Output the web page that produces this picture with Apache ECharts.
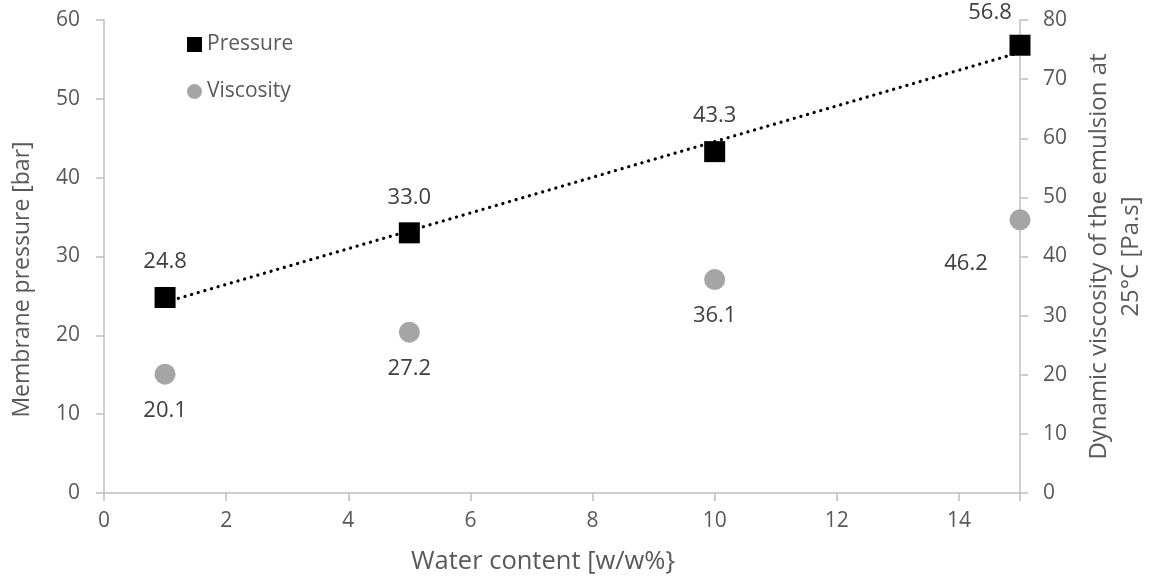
<!DOCTYPE html>
<html><head><meta charset="utf-8">
<script src="https://cdn.jsdelivr.net/npm/echarts@6/dist/echarts.min.js"></script>
<style>html,body{margin:0;padding:0;background:#fff}#c{width:1149px;height:579px}</style>
</head><body><div id="c"></div>
<script>
const waterContent = [1, 5, 10, 15];
const pressure = [24.8, 33.0, 43.3, 56.8];
const viscosity = [20.1, 27.2, 36.1, 46.2];
const trendX = [1, 15];
const trendY = [24.2, 55.9];
const xTicks = [0, 2, 4, 6, 8, 10, 12, 14];

const FONT = 'Open Sans';
const gray = '#595959';
const axisGray = '#bfbfbf';
const chart = echarts.init(document.getElementById('c'));

const pLabel = [
  {position: 'top', distance: 14, offset: [0, 0]},
  {position: 'top', distance: 14, offset: [0, 0]},
  {position: 'top', distance: 14, offset: [0, 0]},
  {position: 'top', distance: 11, offset: [-30, 0]}
];
const vLabel = [
  {position: 'bottom', distance: 15, offset: [0, 0]},
  {position: 'bottom', distance: 15, offset: [0, 0]},
  {position: 'bottom', distance: 15, offset: [0, 0]},
  {position: 'bottom', distance: 22, offset: [-54, 0]}
];

chart.setOption({
  animation: false,
  textStyle: {fontFamily: FONT},
  grid: {left: 104, right: 129, top: 20, bottom: 86, outerBoundsMode: 'none', containLabel: false},
  legend: {
    orient: 'vertical', left: 182, top: 29, itemGap: 26, itemWidth: 15, itemHeight: 15,
    textStyle: {fontFamily: FONT, fontSize: 21, color: gray},
    data: [{name: 'Pressure', icon: 'rect'}, {name: 'Viscosity', icon: 'circle'}]
  },
  xAxis: {
    type: 'value', min: 0, max: 15, interval: 2,
    name: 'Water content [w/w%}', nameLocation: 'middle', nameGap: 56,
    nameTextStyle: {fontFamily: FONT, fontSize: 25.5, color: gray, padding: [0, 38, 0, 0]},
    axisLine: {show: true, lineStyle: {color: axisGray, width: 1.5}},
    axisTick: {show: true, length: 8, lineStyle: {color: axisGray, width: 1.5}},
    axisLabel: {fontFamily: FONT, fontSize: 21, color: gray, margin: 18,
      formatter: v => xTicks.includes(v) ? String(v) : ''},
    splitLine: {show: false}
  },
  yAxis: [{
    type: 'value', min: 0, max: 60, interval: 10, position: 'left',
    name: 'Membrane pressure [bar]', nameLocation: 'middle', nameGap: 70, nameRotate: 90,
    nameTextStyle: {fontFamily: FONT, fontSize: 23, color: gray, padding: [0, 46, 0, 0]},
    axisLine: {show: true, lineStyle: {color: axisGray, width: 1.5}},
    axisTick: {show: true, length: 8, lineStyle: {color: axisGray, width: 1.5}},
    axisLabel: {fontFamily: FONT, fontSize: 21, color: gray, margin: 24},
    splitLine: {show: false}
  }, {
    type: 'value', min: 0, max: 80, interval: 10, position: 'right',
    name: 'Dynamic viscosity of the emulsion at\n25°C [Pa.s]', nameLocation: 'middle', nameGap: 63, nameRotate: 90,
    nameTextStyle: {fontFamily: FONT, fontSize: 24, color: gray, align: 'center', lineHeight: 32},
    axisLine: {show: true, lineStyle: {color: axisGray, width: 1.5}},
    axisTick: {show: true, length: 8, lineStyle: {color: axisGray, width: 1.5}},
    axisLabel: {fontFamily: FONT, fontSize: 21, color: gray, margin: 23},
    splitLine: {show: false}
  }],
  series: [{
    name: 'Trend', type: 'line', yAxisIndex: 0, symbol: 'none', silent: true, z: 1,
    data: trendX.map((x, i) => [x, trendY[i]]),
    lineStyle: {color: '#000', width: 3.2, type: [0.1, 6.8], cap: 'round'}
  }, {
    name: 'Pressure', type: 'scatter', yAxisIndex: 0, symbol: 'rect', symbolSize: 21, z: 3,
    itemStyle: {color: '#000', opacity: 1},
    data: waterContent.map((x, i) => ({value: [x, pressure[i]], label: pLabel[i]})),
    label: {show: true, fontFamily: FONT, fontSize: 22, color: '#404040', formatter: p => p.value[1].toFixed(1)}
  }, {
    name: 'Viscosity', type: 'scatter', yAxisIndex: 1, symbol: 'circle', symbolSize: 21, z: 2,
    itemStyle: {color: '#a5a5a5', opacity: 1},
    data: waterContent.map((x, i) => ({value: [x, viscosity[i]], label: vLabel[i]})),
    label: {show: true, fontFamily: FONT, fontSize: 22, color: '#404040', formatter: p => p.value[1].toFixed(1)}
  }]
});
</script></body></html>
